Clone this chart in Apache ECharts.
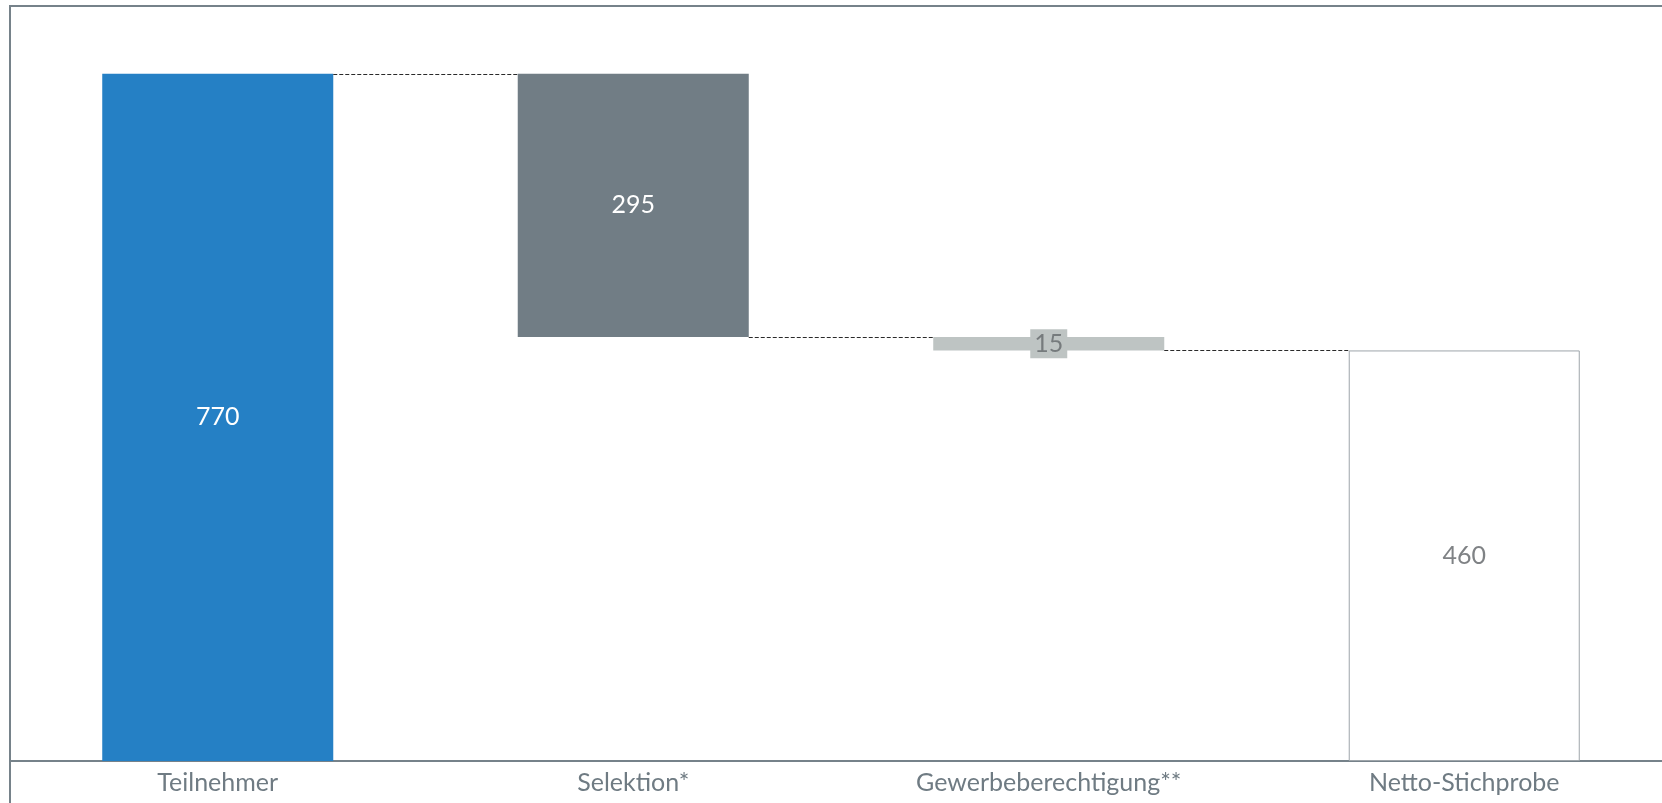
<!DOCTYPE html>
<html>
<head>
<meta charset="utf-8">
<script src="https://cdn.jsdelivr.net/npm/echarts@6/dist/echarts.min.js"></script>
<style>
html,body{margin:0;padding:0;background:#fff;}
#chart{width:1662px;height:803px;}
</style>
</head>
<body>
<div id="chart"></div>
<script>
const categories = ['Teilnehmer', 'Selektion*', 'Gewerbeberechtigung**', 'Netto-Stichprobe'];
const values = [770, 295, 15, 460];
const kinds = ['total', 'decrease', 'decrease', 'total'];
const yMax = 800;

// derive waterfall bases and running levels
const bases = [];
const levels = [];
let running = 0;
values.forEach((v, i) => {
  if (kinds[i] === 'total') { bases.push(0); running = v; }
  else { running = running - v; bases.push(running); }
  levels.push(kinds[i] === 'total' ? v : running);
});
const connectors = [];
for (let i = 0; i < values.length - 1; i++) connectors.push([i, levels[i]]);

const barRatio = 0.556;
const chart = echarts.init(document.getElementById('chart'));
chart.setOption({
  animation: false,
  textStyle: { fontFamily: 'Lato' },
  graphic: [
    { type: 'line', shape: { x1: 10, y1: 6, x2: 1662, y2: 6 }, style: { stroke: '#76828a', lineWidth: 2 } },
    { type: 'line', shape: { x1: 10, y1: 5, x2: 10, y2: 803 }, style: { stroke: '#76828a', lineWidth: 2 } }
  ],
  grid: { left: 10, width: 1662, top: 47, bottom: 42, containLabel: false, outerBoundsMode: 'none' },
  xAxis: {
    type: 'category',
    data: categories,
    axisLine: { lineStyle: { color: '#76828a', width: 2 } },
    axisTick: { show: false },
    axisLabel: { color: '#6f7b83', fontSize: 25, margin: 9, fontFamily: 'Lato' }
  },
  yAxis: {
    type: 'value', min: 0, max: yMax, show: false, splitLine: { show: false }
  },
  series: [
    {
      type: 'bar', stack: 'w', barWidth: (barRatio * 100) + '%',
      itemStyle: { color: 'transparent' },
      data: bases, silent: true
    },
    {
      type: 'bar', stack: 'w', barWidth: (barRatio * 100) + '%',
      data: values.map((v, i) => {
        if (i === 0) return { value: v, itemStyle: { color: '#2580c5' }, label: { color: '#ffffff' } };
        if (i === 1) return { value: v, itemStyle: { color: '#717d85' }, label: { color: '#ffffff' } };
        if (i === 2) return { value: v, itemStyle: { color: '#bec4c3' },
          label: { color: '#767b7d', backgroundColor: '#bec4c3', padding: [2, 4, 2, 4] } };
        return { value: v, itemStyle: { color: '#ffffff', borderColor: '#9ea5aa', borderWidth: 1 }, label: { color: '#7f8285' } };
      }),
      label: { show: true, position: 'inside', fontSize: 25, fontFamily: 'Lato' }
    },
    {
      type: 'custom',
      data: connectors,
      z: 5,
      renderItem: function (params, api) {
        const i = api.value(0);
        const lv = api.value(1);
        const p1 = api.coord([i, lv]);
        const p2 = api.coord([i + 1, lv]);
        const bw = api.size([1, 0])[0] * barRatio;
        const y = Math.round(p1[1]) + 0.5;
        return {
          type: 'line',
          shape: { x1: p1[0] + bw / 2, y1: y, x2: p2[0] - bw / 2, y2: y },
          style: { stroke: '#2a2a2a', lineWidth: 1, lineDash: [4, 2] }
        };
      }
    }
  ]
});
</script>
</body>
</html>
